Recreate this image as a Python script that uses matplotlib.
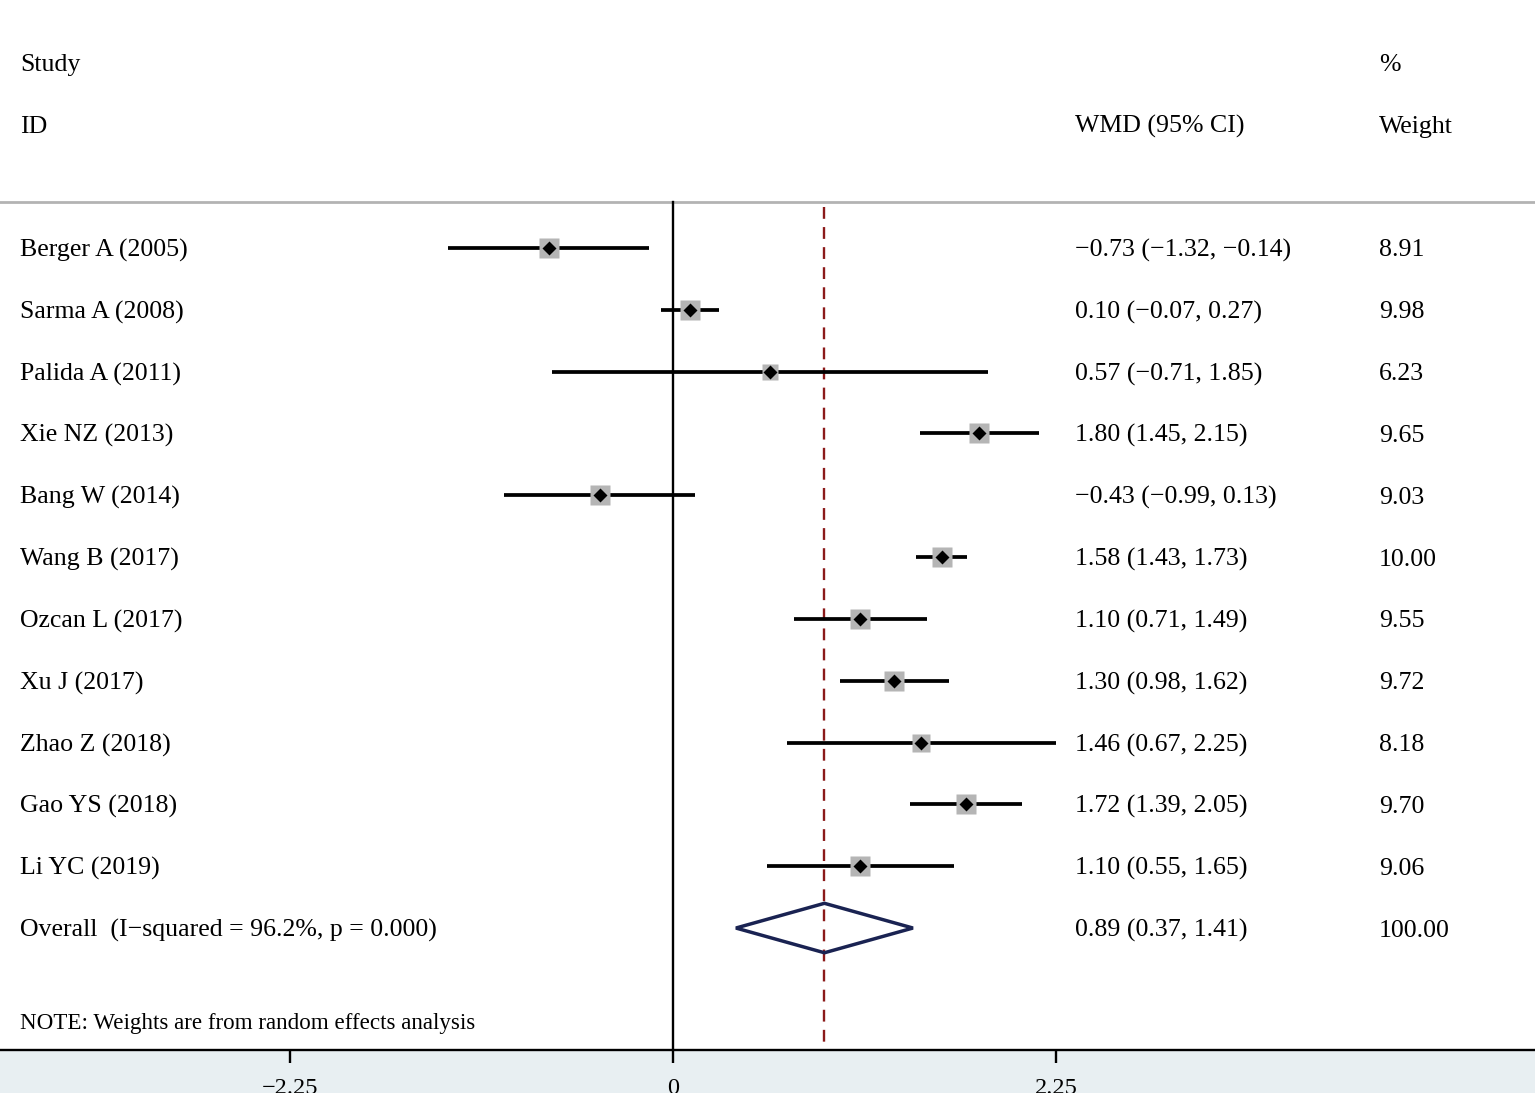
import matplotlib
matplotlib.use("Agg")
import matplotlib.pyplot as plt
from matplotlib.patches import Polygon
import numpy as np

studies = ["Berger A (2005)", "Sarma A (2008)", "Palida A (2011)", "Xie NZ (2013)",
           "Bang W (2014)", "Wang B (2017)", "Ozcan L (2017)", "Xu J (2017)",
           "Zhao Z (2018)", "Gao YS (2018)", "Li YC (2019)"]
wmd = [-0.73, 0.10, 0.57, 1.80, -0.43, 1.58, 1.10, 1.30, 1.46, 1.72, 1.10]
ci_lo = [-1.32, -0.07, -0.71, 1.45, -0.99, 1.43, 0.71, 0.98, 0.67, 1.39, 0.55]
ci_hi = [-0.14, 0.27, 1.85, 2.15, 0.13, 1.73, 1.49, 1.62, 2.25, 2.05, 1.65]
weights = [8.91, 9.98, 6.23, 9.65, 9.03, 10.00, 9.55, 9.72, 8.18, 9.70, 9.06]

overall_label = "Overall  (I\u2212squared = 96.2%, p = 0.000)"
overall = 0.89
overall_lo = 0.37
overall_hi = 1.41

xticks = [-2.25, 0, 2.25]
note = "NOTE: Weights are from random effects analysis"

plt.rcParams["font.family"] = ["Liberation Serif", "DejaVu Serif"]


def fmt(v):
    return f"{v:.2f}".replace("-", "\u2212")


fig = plt.figure(figsize=(15.35, 10.93), dpi=100)
fig.patch.set_facecolor("#e8eff2")
ax = fig.add_axes([0, 43 / 1093, 1, 1050 / 1093])
ax.set_facecolor("white")

n = len(studies)
rows = np.arange(n)
ax.set_xlim(-3.954, 5.065)
ax.set_ylim(12.973, -4.012)

top_line = -0.744
fs = 18.6
dy = 0.04  # small nudge so text sits on the row centre

# headers
xa = ax.get_yaxis_transform()
ax.text(0.013, -3 + dy, "Study", transform=xa, fontsize=fs, va="center")
ax.text(0.013, -2 + dy, "ID", transform=xa, fontsize=fs, va="center")
ax.text(0.7003, -2 + dy, "WMD (95% CI)", transform=xa, fontsize=fs, va="center")
ax.text(0.8984, -3 + dy, "%", transform=xa, fontsize=fs, va="center")
ax.text(0.8984, -2 + dy, "Weight", transform=xa, fontsize=fs, va="center")
ax.axhline(top_line, color="#b3b3b3", lw=2)

# reference lines
ax.plot([0, 0], [top_line, 12.973], color="black", lw=1.7, zorder=2)
ax.plot([overall, overall], [top_line + 0.08, 12.973], color="#8b1a1a", lw=1.7,
        dashes=(5, 3.5), zorder=2)

for i in range(n):
    ax.plot([ci_lo[i], ci_hi[i]], [rows[i], rows[i]], color="black", lw=2.7, zorder=3,
            solid_capstyle="butt")
    side = 14.5 * np.sqrt(weights[i] / 10.0)
    ax.plot(wmd[i], rows[i], marker="s", ms=side, color="#b5b5b5", mec="none", zorder=4)
    ax.plot(wmd[i], rows[i], marker="D", ms=7.3, color="black", mec="none", zorder=5)
    ax.text(0.013, rows[i] + dy, studies[i], transform=xa, fontsize=fs, va="center")
    txt = f"{fmt(wmd[i])} ({fmt(ci_lo[i])}, {fmt(ci_hi[i])})"
    ax.text(0.7003, rows[i] + dy, txt, transform=xa, fontsize=fs, va="center")
    ax.text(0.8984, rows[i] + dy, f"{weights[i]:.2f}", transform=xa, fontsize=fs,
            va="center")

# overall
h = 0.40
diamond = Polygon([[overall_lo, n], [overall, n - h], [overall_hi, n], [overall, n + h]],
                  closed=True, fill=False, edgecolor="#1a2352", lw=2.5, zorder=6)
ax.add_patch(diamond)
ax.text(0.013, n + dy, overall_label, transform=xa, fontsize=fs, va="center")
ax.text(0.7003, n + dy, f"{fmt(overall)} ({fmt(overall_lo)}, {fmt(overall_hi)})",
        transform=xa, fontsize=fs, va="center")
ax.text(0.8984, n + dy, "100.00", transform=xa, fontsize=fs, va="center")

ax.text(0.013, 12.5 + dy, note, transform=xa, fontsize=16.6, va="center")

for s in ["top", "left", "right"]:
    ax.spines[s].set_visible(False)
ax.spines["bottom"].set_linewidth(1.7)
ax.set_yticks([])
ax.set_xticks(xticks)
ax.set_xticklabels([fmt(t) if t != 0 else "0" for t in xticks])
ax.tick_params(axis="x", direction="out", length=9, width=1.7, labelsize=17.5, pad=11)

fig.savefig("out.png", dpi=100, facecolor=fig.get_facecolor())
